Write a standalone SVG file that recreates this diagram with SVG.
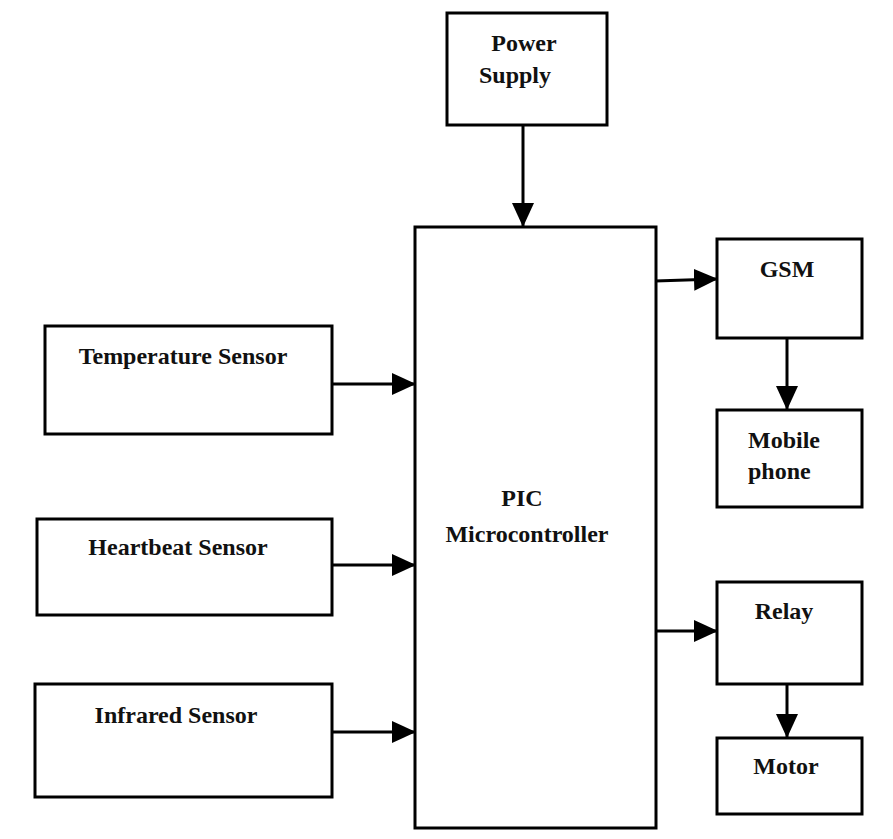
<svg xmlns="http://www.w3.org/2000/svg" width="893" height="839" viewBox="0 0 893 839">
<style>
.box{fill:#fff;stroke:#000;stroke-width:3}
.t{font-family:"Liberation Serif","Times New Roman",serif;font-weight:bold;font-size:24px;fill:#111}
.c{stroke:#000;stroke-width:3;fill:none}
</style>
<defs>
<marker id="a" viewBox="0 0 24 22" refX="23" refY="11" markerWidth="24" markerHeight="22" markerUnits="userSpaceOnUse" orient="auto">
<path d="M0,0 L24,11 L0,22 z" fill="#000"/>
</marker>
</defs>
<rect width="893" height="839" fill="#fff"/>
<g id="connectors">
<line class="c" x1="523" y1="125" x2="523" y2="226" marker-end="url(#a)"/>
<line class="c" x1="655" y1="281" x2="717" y2="279" marker-end="url(#a)"/>
<line class="c" x1="787" y1="338" x2="787" y2="409" marker-end="url(#a)"/>
<line class="c" x1="655" y1="631" x2="717" y2="631" marker-end="url(#a)"/>
<line class="c" x1="787" y1="684" x2="787" y2="737" marker-end="url(#a)"/>
<line class="c" x1="332" y1="384" x2="415" y2="384" marker-end="url(#a)"/>
<line class="c" x1="332" y1="565" x2="415" y2="565" marker-end="url(#a)"/>
<line class="c" x1="332" y1="732" x2="415" y2="732" marker-end="url(#a)"/>
</g>
<g id="power">
<rect class="box" x="447" y="13" width="160" height="112"/>
<text class="t" x="524" y="51" text-anchor="middle">Power</text>
<text class="t" x="515" y="83" text-anchor="middle">Supply</text>
</g>
<g id="pic">
<rect class="box" x="415" y="227" width="241" height="601"/>
<text class="t" x="522" y="506" text-anchor="middle">PIC</text>
<text class="t" x="527" y="542" text-anchor="middle">Microcontroller</text>
</g>
<g id="gsm">
<rect class="box" x="717" y="239" width="145" height="99"/>
<text class="t" x="787" y="277" text-anchor="middle">GSM</text>
</g>
<g id="mobile">
<rect class="box" x="717" y="410" width="145" height="97"/>
<text class="t" x="748" y="448">Mobile</text>
<text class="t" x="748" y="479">phone</text>
</g>
<g id="relay">
<rect class="box" x="717" y="582" width="145" height="102"/>
<text class="t" x="784" y="619" text-anchor="middle">Relay</text>
</g>
<g id="motor">
<rect class="box" x="717" y="738" width="145" height="76"/>
<text class="t" x="786" y="774" text-anchor="middle">Motor</text>
</g>
<g id="temp">
<rect class="box" x="45" y="326" width="287" height="108"/>
<text class="t" x="183" y="364" text-anchor="middle">Temperature Sensor</text>
</g>
<g id="heart">
<rect class="box" x="37" y="519" width="295" height="96"/>
<text class="t" x="178" y="555" text-anchor="middle">Heartbeat Sensor</text>
</g>
<g id="ir">
<rect class="box" x="35" y="684" width="297" height="113"/>
<text class="t" x="176" y="723" text-anchor="middle">Infrared Sensor</text>
</g>
</svg>
